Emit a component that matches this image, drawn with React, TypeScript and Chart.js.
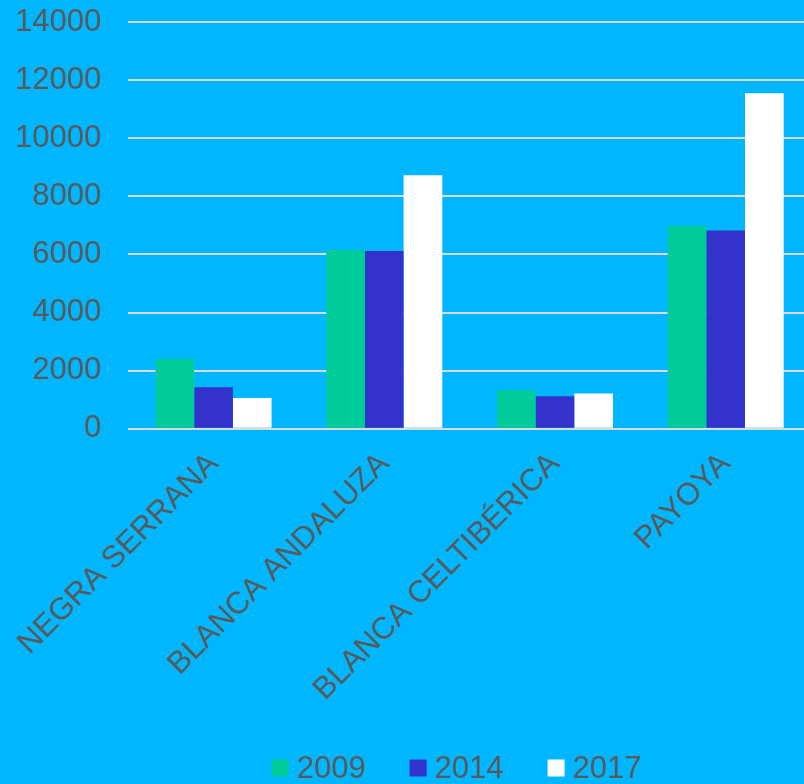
import React, { useEffect, useRef } from "react";
import { Chart, registerables } from "chart.js";

Chart.register(...registerables);

const categories = ["NEGRA SERRANA", "BLANCA ANDALUZA", "BLANCA CELTIBÉRICA", "PAYOYA"];
const seriesLabels = ["2009", "2014", "2017"];
const values2009 = [2400, 6150, 1330, 6990];
const values2014 = [1430, 6120, 1120, 6820];
const values2017 = [1060, 8730, 1215, 11550];
const yTicks = [0, 2000, 4000, 6000, 8000, 10000, 12000, 14000];
const seriesColors = ["#00CC99", "#3333CC", "#FFFFFF"];

const BG = "#00B6FF";
const TEXT = "#595959";
const FONT = "'Liberation Sans', Arial, sans-serif";
const FONT_SIZE = 31;

const customLegend = {
  id: "customLegend",
  afterDraw: (c: any) => {
    const ctx = c.ctx;
    const ds = c.data.datasets;
    const box = 17;
    const gap = 8;
    const spacing = 44;
    ctx.save();
    ctx.font = `${FONT_SIZE}px ${FONT}`;
    const widths = ds.map((d: any) => box + gap + ctx.measureText(d.label).width);
    const total = widths.reduce((a: number, b: number) => a + b, 0) + spacing * (ds.length - 1);
    const center = (c.chartArea.left + c.chartArea.right) / 2 - 13;
    let x = center - total / 2;
    const y = 768;
    ctx.textBaseline = "middle";
    ctx.textAlign = "left";
    ds.forEach((d: any, i: number) => {
      ctx.fillStyle = d.backgroundColor;
      ctx.fillRect(x, y - box / 2, box, box);
      ctx.fillStyle = TEXT;
      ctx.fillText(d.label, x + box + gap, y + 1);
      x += widths[i] + spacing;
    });
    ctx.restore();
  },
};

export default function App() {
  const ref = useRef<HTMLCanvasElement | null>(null);
  useEffect(() => {
    if (!ref.current) return;
    const values = [values2009, values2014, values2017];
    const chart = new Chart(ref.current, {
      type: "bar",
      data: {
        labels: categories,
        datasets: seriesLabels.map((label, i) => ({
          label,
          data: values[i],
          backgroundColor: seriesColors[i],
        })),
      },
      options: {
        responsive: false,
        animation: false,
        layout: { padding: { top: 22, right: 0, left: -12, bottom: 59 } },
        datasets: { bar: { categoryPercentage: 0.68, barPercentage: 1 } },
        plugins: {
          legend: { display: false },
          tooltip: { enabled: false },
        },
        scales: {
          x: {
            grid: { display: false, drawTicks: false },
            border: { display: false },
            afterFit: (s: any) => {
              s.paddingLeft = 0;
              s.paddingRight = 0;
            },
            ticks: {
              color: TEXT,
              font: { family: FONT, size: FONT_SIZE },
              minRotation: 45,
              maxRotation: 45,
              autoSkip: false,
              padding: 17,
            },
          },
          y: {
            min: 0,
            max: 14000,
            afterBuildTicks: (scale: any) => {
              scale.ticks = yTicks.map((v) => ({ value: v }));
            },
            afterFit: (s: any) => {
              s.paddingTop = 0;
              s.paddingBottom = 0;
            },
            grid: { color: "#D9D9D9", lineWidth: 2, drawTicks: false },
            border: { display: false },
            ticks: {
              color: TEXT,
              font: { family: FONT, size: FONT_SIZE },
              padding: 27,
              callback: (v: any) => String(v),
            },
          },
        },
      },
      plugins: [
        {
          id: "bg",
          beforeDraw: (c: any) => {
            const ctx = c.ctx;
            ctx.save();
            ctx.fillStyle = BG;
            ctx.fillRect(0, 0, c.width, c.height);
            ctx.restore();
          },
        },
        customLegend,
      ],
    });
    return () => chart.destroy();
  }, []);
  return (
    <div
      style={{
        position: "fixed",
        left: 0,
        top: 0,
        width: 804,
        height: 784,
        overflow: "hidden",
        background: BG,
      }}
    >
      <canvas ref={ref} width={811} height={784} style={{ display: "block" }} />
    </div>
  );
}
